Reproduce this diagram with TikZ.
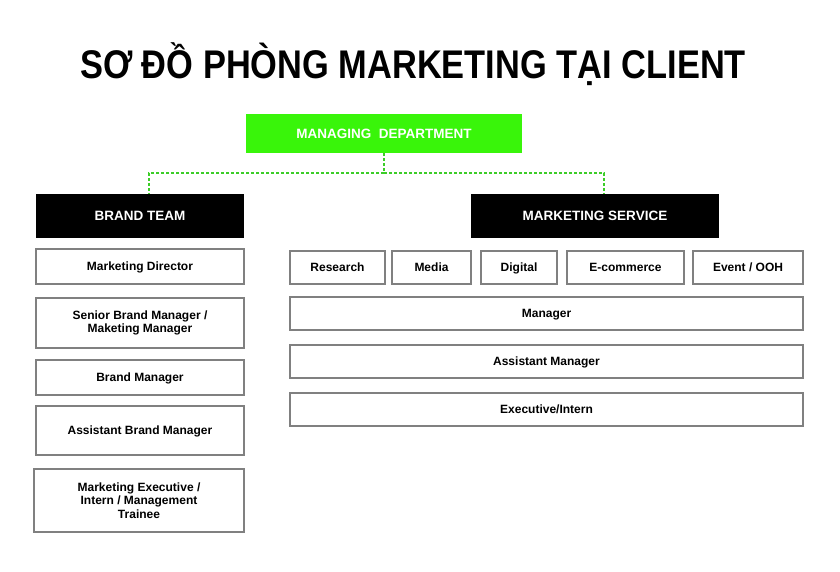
\documentclass[tikz,border=0pt]{standalone}
\usepackage{fontspec}
\setmainfont{Liberation Sans}
\definecolor{mgreen}{RGB}{57,245,10}
\definecolor{dgreen}{RGB}{60,205,40}
\definecolor{bgrey}{RGB}{128,128,128}
\tikzset{
  wbox/.style={draw=bgrey, line width=1.6pt, fill=white, inner sep=0pt, align=center,
    font=\fontsize{12}{13.5}\selectfont\bfseries, text=black},
  one/.style={text height=8.6pt, text depth=0pt},
  hbox/.style={fill=black, inner sep=0pt, text=white, text height=9.7pt, text depth=0pt, font=\fontsize{13.5}{15}\selectfont\bfseries},
  gbox/.style={fill=mgreen, inner sep=0pt, text=white, text height=9.7pt, text depth=0pt, font=\fontsize{13.5}{15}\selectfont\bfseries},
  dline/.style={draw=dgreen, line width=1.4pt, dash pattern=on 3pt off 2pt}
}
\begin{document}
\begin{tikzpicture}[x=1pt,y=-1pt]
\useasboundingbox (0,0) rectangle (840,572);
\node[font=\fontsize{40}{44}\selectfont\bfseries, xscale=0.86, inner sep=0pt] (title) at (413,64) {SƠ ĐỒ PHÒNG MARKETING TẠI CLIENT};
\node[gbox, minimum width=276pt, minimum height=39pt] (md) at (384,133.5) {MANAGING\ \ DEPARTMENT};
\node[hbox, minimum width=208pt, minimum height=44pt] (bt) at (140,216) {BRAND TEAM};
\node[hbox, minimum width=248pt, minimum height=44pt] (ms) at (595,216) {MARKETING SERVICE};
\draw[dline] (md.south) -- ++(0,20) coordinate (j);
\draw[dline] (j) -| ([xshift=9pt]bt.north);
\draw[dline] (j) -| ([xshift=9pt]ms.north);
% left column
\node[wbox, one, minimum width=208pt, minimum height=35pt] (l1) at (140,266.5) {Marketing Director};
\node[wbox, minimum width=208pt, minimum height=50pt] (l2) at (140,323) {Senior Brand Manager /\\Maketing Manager};
\node[wbox, one, minimum width=208pt, minimum height=35pt] (l3) at (140,377.5) {Brand Manager};
\node[wbox, one, minimum width=208pt, minimum height=49pt] (l4) at (140,430.5) {Assistant Brand Manager};
\node[wbox, minimum width=210pt, minimum height=63pt] (l5) at (139,500.5) {Marketing Executive /\\Intern / Management\\Trainee};
% right column
\node[wbox, one, minimum width=95pt, minimum height=33pt] (r1) at (337.5,267.5) {Research};
\node[wbox, one, minimum width=79pt, minimum height=33pt] (r2) at (431.5,267.5) {Media};
\node[wbox, one, minimum width=76pt, minimum height=33pt] (r3) at (519,267.5) {Digital};
\node[wbox, one, minimum width=117pt, minimum height=33pt] (r4) at (625.5,267.5) {E-commerce};
\node[wbox, one, minimum width=110pt, minimum height=33pt] (r5) at (748,267.5) {Event / OOH};
\node[wbox, one, minimum width=513pt, minimum height=33pt] (m1) at (546.5,313.5) {Manager};
\node[wbox, one, minimum width=513pt, minimum height=33pt] (m2) at (546.5,361.5) {Assistant Manager};
\node[wbox, one, minimum width=513pt, minimum height=33pt] (m3) at (546.5,409.5) {Executive/Intern};
\end{tikzpicture}
\end{document}
